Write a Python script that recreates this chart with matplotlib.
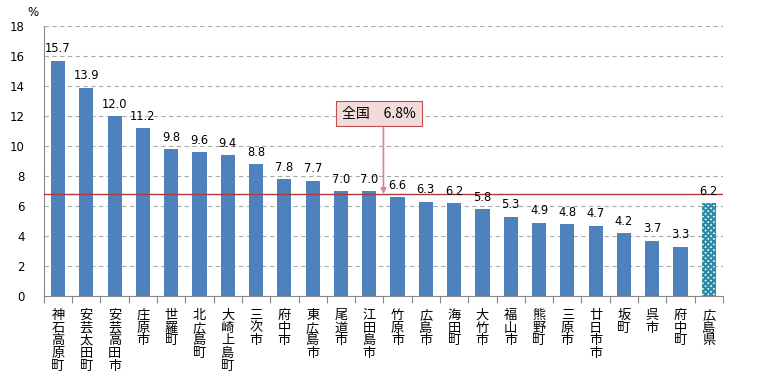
import matplotlib
matplotlib.use("Agg")
import matplotlib.pyplot as plt
import numpy as np

plt.rcParams['font.family'] = ['Noto Sans CJK JP', 'DejaVu Sans']

categories = ["神石高原町", "安芸太田町", "安芸高田市", "庄原市", "世羅町", "北広島町",
              "大崎上島町", "三次市", "府中市", "東広島市", "尾道市", "江田島市",
              "竹原市", "広島市", "海田町", "大竹市", "福山市", "熊野町", "三原市",
              "廿日市市", "坂町", "呉市", "府中町", "広島県"]
values = [15.7, 13.9, 12.0, 11.2, 9.8, 9.6, 9.4, 8.8, 7.8, 7.7, 7.0, 7.0,
          6.6, 6.3, 6.2, 5.8, 5.3, 4.9, 4.8, 4.7, 4.2, 3.7, 3.3, 6.2]
national = 6.8
yticks = [0, 2, 4, 6, 8, 10, 12, 14, 16, 18]

fig = plt.figure(figsize=(7.57, 3.79), dpi=100)
ax = fig.add_axes([0.058, 0.219, 0.897, 0.712])

n = len(categories)
x = np.arange(n)
bar_color = '#4F81BD'
ax.bar(x[:-1], values[:-1], width=0.5, color=bar_color, zorder=3)
plt.rcParams['hatch.linewidth'] = 1.6
ax.bar(x[-1], values[-1], width=0.5, facecolor='white', edgecolor='#2C8CA8',
       hatch='xxxxxx', linewidth=0, zorder=3)

for xi, v in zip(x, values):
    ax.text(xi, v + 0.35, f"{v:.1f}", ha='center', va='bottom', fontsize=8.3,
            family=['DejaVu Sans'], zorder=5)

ax.set_xlim(-0.5, n - 0.5)
ax.set_ylim(0, 18)
ax.set_yticks(yticks)
ax.set_yticklabels([str(t) for t in yticks], fontsize=8.5, family=['DejaVu Sans'])
ax.tick_params(axis='y', length=0, pad=14)

ax.set_xticks(np.arange(n + 1) - 0.5)
ax.set_xticklabels([])
ax.tick_params(axis='x', direction='out', length=5, color='#888888')
for xi, c in zip(x, categories):
    ax.text(xi, -0.85, "\n".join(c), ha='center', va='top', fontsize=9.5,
            linespacing=0.98, transform=ax.transData)

ax.grid(axis='y', color='#AAAAAA', linestyle=(0, (4, 3)), linewidth=0.8, zorder=0)
for s in ['top', 'right']:
    ax.spines[s].set_visible(False)
ax.spines['left'].set_color('#888888')
ax.spines['bottom'].set_color('#888888')

ax.axhline(national, color='#B03A3A', linewidth=1.0, zorder=4)
ax.annotate("", xy=(11.5, national), xytext=(11.5, 11.27),
            arrowprops=dict(arrowstyle='-|>', color='#D9878A', lw=1.2,
                            mutation_scale=8, shrinkA=0, shrinkB=0), zorder=6)
ax.text(11.35, 12.17, "全国　6.8%", ha='center', va='center', fontsize=10,
        zorder=7,
        bbox=dict(boxstyle='square,pad=0.42', facecolor='#F2DCDB',
                  edgecolor='#C0504D', linewidth=0.8))

fig.text(33 / 757, 1 - 12 / 379, "%", ha='center', va='center', fontsize=8.5,
         family=['DejaVu Sans'])

fig.savefig("out.png", dpi=100)
